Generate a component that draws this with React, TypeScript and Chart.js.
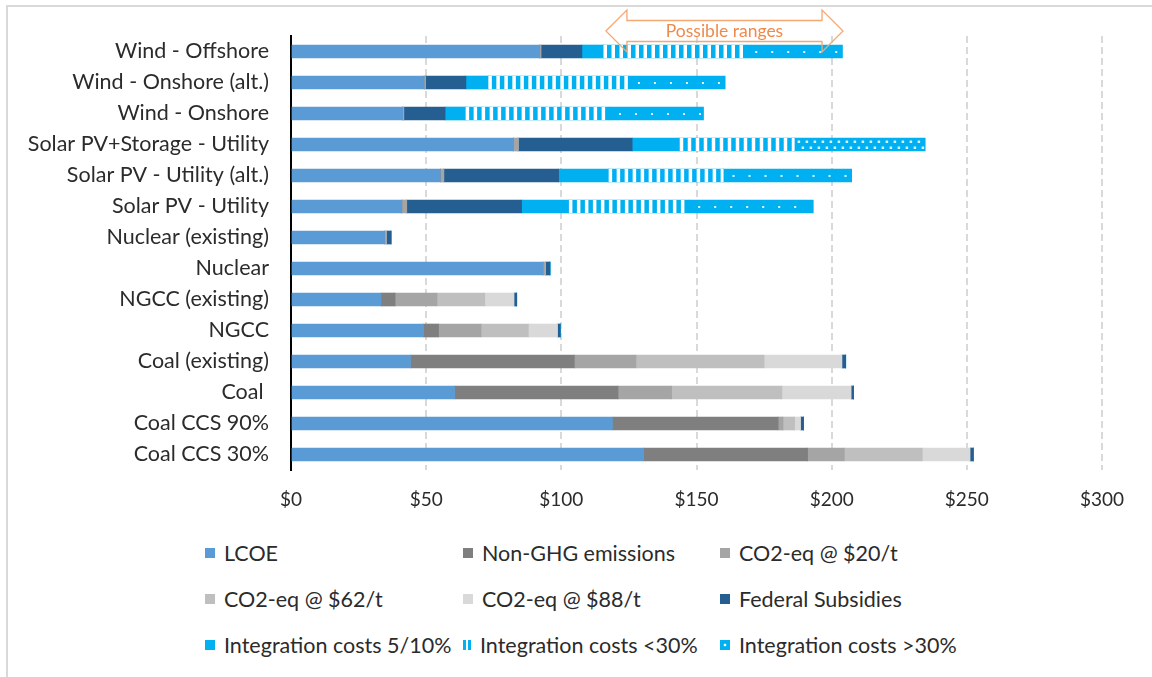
import React, { useEffect, useRef } from "react";
import { Chart, registerables } from "chart.js";

Chart.register(...registerables);

const categories = [
  "Wind - Offshore",
  "Wind - Onshore (alt.)",
  "Wind - Onshore",
  "Solar PV+Storage - Utility",
  "Solar PV - Utility (alt.)",
  "Solar PV - Utility",
  "Nuclear (existing)",
  "Nuclear",
  "NGCC (existing)",
  "NGCC",
  "Coal (existing)",
  "Coal ",
  "Coal CCS 90%",
  "Coal CCS 30%",
];

const lcoe = [92, 49.2, 41.3, 82.2, 55.2, 41, 34.6, 93.2, 33.3, 49, 44.2, 60.5, 118.9, 130.4];
const nonGhg = [0, 0, 0, 0, 0, 0, 0, 0, 5.2, 5.6, 60.6, 60.5, 61.3, 60.7];
const co2At20 = [0.4, 0.4, 0.4, 1.8, 1.3, 1.8, 0.6, 0.9, 15.5, 15.7, 22.8, 19.8, 1.8, 13.6];
const co2At62 = [0, 0, 0, 0, 0, 0, 0, 0, 17.7, 17.5, 47.4, 40.8, 4.3, 28.8];
const co2At88 = [0, 0, 0, 0, 0, 0, 0, 0, 10.8, 10.8, 28.8, 25.6, 2.2, 17.7];
const subsidies = [15.2, 15.1, 15.3, 42.2, 42.5, 42.5, 1.8, 1.7, 1, 1, 1.4, 0.9, 1.1, 1.2];
const int5to10 = [8, 8.3, 7.6, 17.6, 18.5, 17.5, 0, 0, 0, 0, 0, 0, 0, 0];
const intBelow30 = [52.8, 52, 53.4, 42.5, 42.5, 44.5, 0, 0, 0, 0, 0, 0, 0, 0];
const intAbove30 = [35.6, 35.6, 34.6, 48.3, 47.4, 45.9, 0, 0, 0, 0, 0, 0, 0, 0];

const xTicks = [0, 50, 100, 150, 200, 250, 300];
const arrowRange = [116.5, 204.2];
const arrowLabel = "Possible ranges";

const seriesNames = [
  "LCOE",
  "Non-GHG emissions",
  "CO2-eq @ $20/t",
  "CO2-eq @ $62/t",
  "CO2-eq @ $88/t",
  "Federal Subsidies",
  "Integration costs 5/10%",
  "Integration costs <30%",
  "Integration costs >30%",
];
const seriesValues = [lcoe, nonGhg, co2At20, co2At62, co2At88, subsidies, int5to10, intBelow30, intAbove30];
const seriesColors = ["#5B9BD5", "#7F7F7F", "#A5A5A5", "#BFBFBF", "#D9D9D9", "#255E91", "#00B0F0", "#00B0F0", "#00B0F0"];

const FONT = "Lato, 'Open Sans', sans-serif";
const TEXT = "#2B2B2B";

const overlayPlugin = {
  id: "overlayPatterns",
  afterDatasetsDraw(chart: any) {
    const ctx = chart.ctx;
    ctx.save();
    // stripes for "<30%"
    const stripeMeta = chart.getDatasetMeta(7);
    ctx.fillStyle = "#ffffff";
    stripeMeta.data.forEach((bar: any) => {
      const p = bar.getProps(["x", "y", "base", "height"], true);
      const left = Math.min(p.x, p.base);
      const right = Math.max(p.x, p.base);
      if (right - left < 1) return;
      for (let px = left; px < right - 1; px += 8) {
        ctx.fillRect(px, p.y - p.height / 2, Math.min(3.5, right - px), p.height);
      }
    });
    // dots for ">30%"
    const dotMeta = chart.getDatasetMeta(8);
    dotMeta.data.forEach((bar: any, i: number) => {
      const p = bar.getProps(["x", "y", "base", "height"], true);
      const left = Math.min(p.x, p.base);
      const right = Math.max(p.x, p.base);
      if (right - left < 1) return;
      if (categories[i].indexOf("Storage") >= 0) {
        ctx.fillStyle = "rgba(255,255,255,0.85)";
        let row = 0;
        for (let yy = p.y - 3; yy <= p.y + 3; yy += 6) {
          for (let px = left + 4 + (row % 2) * 4; px < right - 2; px += 8) {
            ctx.fillRect(px - 1, yy - 1, 2.5, 2.5);
          }
          row++;
        }
      } else {
        ctx.fillStyle = "rgba(255,255,255,0.9)";
        for (let px = left + 10; px < right - 3; px += 16) {
          ctx.fillRect(px - 1, p.y - 0.5, 2, 2);
        }
      }
    });
    ctx.restore();
  },
  afterDraw(chart: any) {
    const ctx = chart.ctx;
    const xs = chart.scales.x;
    const x1 = xs.getPixelForValue(arrowRange[0]);
    const x2 = xs.getPixelForValue(arrowRange[1]);
    const mid = chart.chartArea.top - 5;
    const head = 21;
    const shaft = 10.5;
    const half = 21;
    ctx.save();
    ctx.strokeStyle = "#F4A873";
    ctx.lineWidth = 1.3;
    ctx.beginPath();
    ctx.moveTo(x1, mid);
    ctx.lineTo(x1 + head, mid - half);
    ctx.lineTo(x1 + head, mid - shaft);
    ctx.lineTo(x2 - head, mid - shaft);
    ctx.lineTo(x2 - head, mid - half);
    ctx.lineTo(x2, mid);
    ctx.lineTo(x2 - head, mid + half);
    ctx.lineTo(x2 - head, mid + shaft);
    ctx.lineTo(x1 + head, mid + shaft);
    ctx.lineTo(x1 + head, mid + half);
    ctx.closePath();
    ctx.stroke();
    ctx.fillStyle = "#EF8A4A";
    ctx.font = "17.5px " + FONT;
    ctx.textAlign = "center";
    ctx.textBaseline = "middle";
    ctx.fillText(arrowLabel, (x1 + x2) / 2, mid);
    ctx.restore();
  },
};

const legendLayout = [
  [0, 1, 2],
  [3, 4, 5],
  [6, 7, 8],
];
const legendCols = [205, 463, 720];
const legendRows = [553, 599, 645];

function markerStyle(i: number): React.CSSProperties {
  const base: React.CSSProperties = { width: 10, height: 10, flex: "0 0 auto" };
  if (i === 7) {
    return { ...base, width: 8, background: "linear-gradient(90deg,#00B0F0 0 3px,#fff 3px 5px,#00B0F0 5px 8px)" };
  }
  if (i === 8) {
    return { ...base, background: "radial-gradient(circle at 50% 50%, #ffffff 0 1.5px, #00B0F0 1.6px)" };
  }
  return { ...base, background: seriesColors[i] };
}

export default function App() {
  const canvasRef = useRef<HTMLCanvasElement | null>(null);

  useEffect(() => {
    const canvas = canvasRef.current;
    if (!canvas) return;
    const chart = new Chart(canvas, {
      type: "bar",
      data: {
        labels: categories,
        datasets: seriesNames.map((name, i) => ({
          label: name,
          data: seriesValues[i],
          backgroundColor: seriesColors[i],
          borderWidth: 0,
          barThickness: 13,
        })),
      },
      options: {
        indexAxis: "y",
        animation: false,
        responsive: false,
        maintainAspectRatio: false,
        layout: { padding: { top: 36, right: 50, left: 0, bottom: 0 } },
        plugins: { legend: { display: false }, tooltip: { enabled: false } },
        scales: {
          x: {
            stacked: true,
            min: 0,
            max: 300,
            afterBuildTicks: (scale: any) => {
              scale.ticks = xTicks.map((v) => ({ value: v }));
            },
            afterFit: (scale: any) => {
              scale.height = 60;
            },
            ticks: {
              callback: (v: any) => "$" + v,
              font: { family: FONT, size: 19 },
              color: TEXT,
              padding: 18,
              maxRotation: 0,
            },
            grid: {
              color: (c: any) => (c.tick && c.tick.value === 0 ? "rgba(0,0,0,0)" : "#D9D9D9"),
              lineWidth: 2,
              drawTicks: false,
            },
            border: { display: false, dash: [7, 4] },
          },
          y: {
            stacked: true,
            afterFit: (scale: any) => {
              scale.width = 291;
            },
            ticks: {
              font: { family: FONT, size: 21.5 },
              color: TEXT,
              padding: 22,
            },
            grid: { display: false, drawTicks: false },
            border: { display: true, color: "#000000", width: 2 },
          },
        },
      },
      plugins: [overlayPlugin],
    } as any);
    return () => chart.destroy();
  }, []);

  return (
    <div style={{ position: "fixed", left: 0, top: 0, width: 1152, height: 677, background: "#fff", fontFamily: FONT, overflow: "hidden" }}>
      <div
        style={{
          position: "absolute",
          left: 6,
          top: 5,
          width: 1160,
          height: 700,
          borderTop: "2px solid #D9D9D9",
          borderLeft: "2px solid #D9D9D9",
          boxSizing: "border-box",
        }}
      />
      <canvas ref={canvasRef} width={1152} height={530} style={{ position: "absolute", left: 0, top: 0, width: 1152, height: 530 }} />
      {legendLayout.map((row, r) =>
        row.map((si, c) => (
          <div
            key={si}
            style={{
              position: "absolute",
              left: legendCols[c],
              top: legendRows[r] - 14,
              height: 28,
              display: "flex",
              alignItems: "center",
              gap: 9,
              fontSize: 21.5,
              color: TEXT,
              whiteSpace: "nowrap",
            }}
          >
            <span style={markerStyle(si)} />
            <span>{seriesNames[si]}</span>
          </div>
        ))
      )}
    </div>
  );
}
